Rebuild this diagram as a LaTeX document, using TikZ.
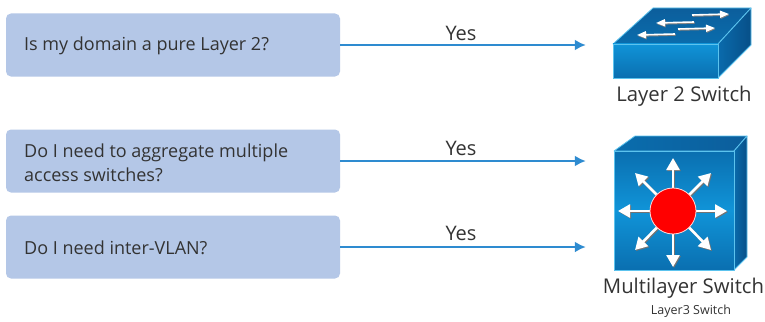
\documentclass[tikz,border=0pt]{standalone}
\usepackage{fontspec}
\setmainfont{Open Sans}
\usetikzlibrary{arrows.meta}
\definecolor{boxfill}{HTML}{B4C7E7}
\definecolor{link}{HTML}{2E8BD0}
\definecolor{txt}{HTML}{333333}
\definecolor{frontA}{HTML}{1094D8}
\definecolor{frontB}{HTML}{0A6FB0}
\definecolor{topA}{HTML}{0A6DAD}
\definecolor{topB}{HTML}{0C5E9C}
\definecolor{sideA}{HTML}{0A6BAC}
\definecolor{sideB}{HTML}{074F88}
\definecolor{rim}{HTML}{5CC3EE}
\tikzset{
  x=1pt,y=-1pt,
  qbox/.style={draw=none,fill=boxfill,rounded corners=5pt,minimum width=334pt,minimum height=63pt,inner sep=0pt},
  qtext/.style={anchor=west,inner sep=0pt,align=left,font=\fontsize{18}{24.5}\selectfont,text=txt},
  yeslabel/.style={inner sep=0pt,font=\fontsize{20}{24}\selectfont,text=txt},
  connector/.style={draw=link,line width=2.2pt,-{Latex[length=11pt,width=11pt]}},
  caption/.style={inner sep=0pt,font=\fontsize{20.3}{24}\selectfont,text=txt},
  smallcap/.style={inner sep=0pt,font=\fontsize{12.5}{15}\selectfont,text=txt},
  face/.style={draw=rim,line width=0.8pt,line join=round},
  whitearrow/.style={draw=white,line width=2.6pt,-{Triangle[length=12pt,width=13pt,fill=white]}},
  shadowarrow/.style={draw=black!55,line width=2.6pt,-{Triangle[length=12pt,width=13pt,fill=black!55]}},
  thinarrow/.style={draw=white,line width=1.6pt,-{Triangle[length=9pt,width=7pt,fill=white]}},
  thinshadow/.style={draw=black!50,line width=1.6pt,-{Triangle[length=9pt,width=7pt,fill=black!50]}},
  anchorpt/.style={inner sep=0pt,minimum size=0pt}
}
\newcommand{\spoke}[1]{%
  \draw[shadowarrow] ([shift={(1,1)}]hub) -- ([shift={(1,1)}]#1);
  \draw[whitearrow] (hub) -- (#1);}
\newcommand{\flow}[2]{%
  \draw[thinshadow] ([shift={(0.6,1)}]#1) -- ([shift={(0.6,1)}]#2);
  \draw[thinarrow] (#1) -- (#2);}
\begin{document}
\begin{tikzpicture}
\useasboundingbox (0,0) rectangle (765,321);
\fill[white] (0,0) rectangle (765,321);

% question boxes
\node[qbox] (q1) at (173,45) {};
\node[qbox] (q2) at (173,161) {};
\node[qbox] (q3) at (173,247) {};
\node[qtext] (t1) at (24,46) {Is my domain a pure Layer 2?};
\node[qtext] (t2) at (24,163) {Do I need to aggregate multiple\\access switches?};
\node[qtext] (t3) at (24,248) {Do I need inter-VLAN?};

% arrow targets
\node[anchorpt] (s1) at (586,45) {};
\node[anchorpt] (s2) at (586,161) {};
\node[anchorpt] (s3) at (586,247) {};
\draw[connector] (q1.east) -- (s1);
\draw[connector] (q2.east) -- (s2);
\draw[connector] (q3.east) -- (s3);
\node[yeslabel] (y1) at (461,33) {Yes};
\node[yeslabel] (y2) at (461,148) {Yes};
\node[yeslabel] (y3) at (461,233) {Yes};

% Layer 2 switch
\path[face,top color=topB,bottom color=topA] (613,44) -- (653,8) -- (751,8) -- (718,44) -- cycle;
\path[face,left color=sideA,right color=sideB] (718,44) -- (751,8) -- (751,45) -- (718,78) -- cycle;
\path[face,top color=frontA,bottom color=frontB] (613,44) rectangle (718,78);
\flow{692,15}{729,14}
\flow{678,29}{715,28}
\flow{694,22}{656,23}
\flow{675,34}{637,35}

% Multilayer switch
\path[face,left color=topA,right color=topB] (614,151) -- (635,136) -- (747,136) -- (734,151) -- cycle;
\path[face,left color=sideA,right color=sideB] (734,151) -- (747,136) -- (747,257) -- (734,270) -- cycle;
\path[face,top color=frontB,bottom color=frontB,middle color=frontA] (614,151) rectangle (734,270);
\coordinate (hub) at (673,211);
\spoke{673,158}
\spoke{673,267}
\spoke{618,211}
\spoke{727,211}
\spoke{635,173}
\spoke{711,173}
\spoke{635,250}
\spoke{711,250}
\fill[red,draw=white!85!red,line width=0.8pt] (hub) circle (23);

% captions
\node[caption] (c1) at (684,96) {Layer 2 Switch};
\node[caption] (c2) at (683.5,288) {Multilayer Switch};
\node[smallcap] (c3) at (691,311) {Layer3 Switch};
\end{tikzpicture}
\end{document}
